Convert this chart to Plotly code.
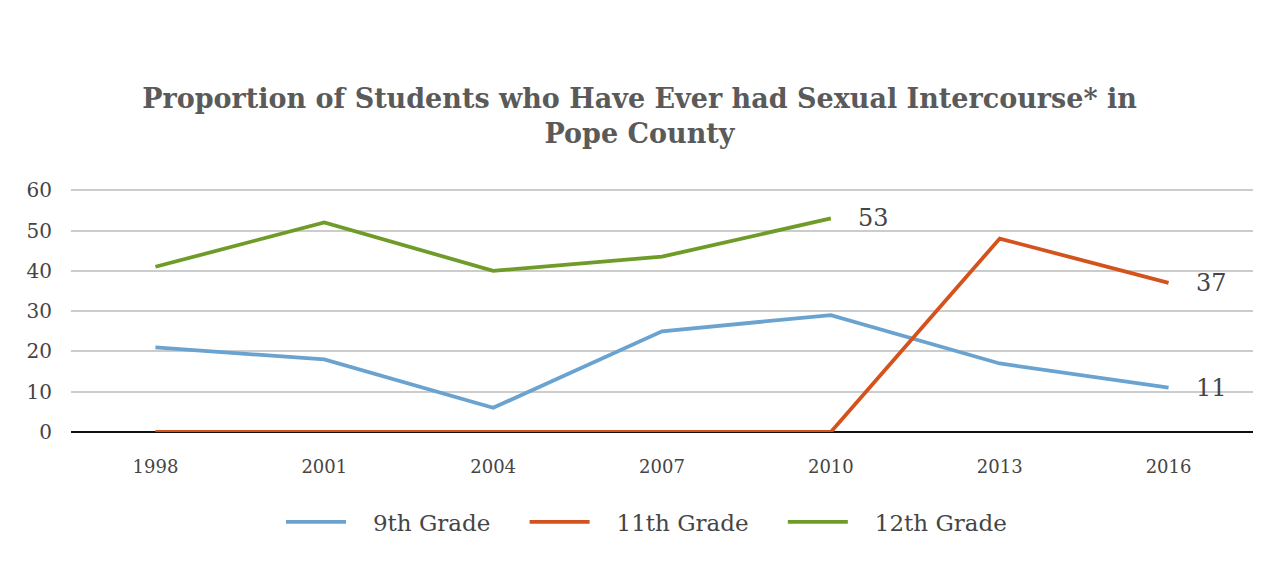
import plotly.graph_objects as go

years = ["1998", "2001", "2004", "2007", "2010", "2013", "2016"]
grade9 = [21, 18, 6, 25, 29, 17, 11]
grade11 = [0, 0, 0, 0, 0, 48, 37]
grade12 = [41, 52, 40, 43.5, 53, None, None]
series_names = ["9th Grade", "11th Grade", "12th Grade"]
colors = ["#6aa3d0", "#d4531d", "#6f9b28"]
# end labels: (category index, value, text)
end_labels = [(6, 11, "11"), (6, 37, "37"), (4, 53, "53")]

TXT = "#454545"
FONT = "DejaVu Serif"
PAD = "\u00a0\u00a0\u00a0"
TAIL = "\u00a0\u00a0\u00a0\u00a0"

fig = go.Figure()
for name, vals, col in zip(series_names, [grade9, grade11, grade12], colors):
    fig.add_trace(go.Scatter(x=years, y=vals, name=PAD + name + TAIL, mode="lines",
                             line=dict(color=col, width=3.8), connectgaps=False))

for x, y, t in end_labels:
    fig.add_annotation(x=x, y=y, text=t, showarrow=False, xanchor="left",
                       xshift=25, font=dict(family=FONT, size=24, color=TXT))

fig.update_layout(
    width=1279, height=580,
    paper_bgcolor="white", plot_bgcolor="white",
    margin=dict(l=71, r=26, t=189, b=148),
    title=dict(text="<b>Proportion of Students who Have Ever had Sexual Intercourse* in<br>Pope County</b>",
               x=0.5, xanchor="center", y=1 - 108 / 580, yanchor="top",
               font=dict(family=FONT, size=27, color="#5a5a5a")),
    font=dict(family=FONT, color=TXT),
    legend=dict(orientation="h", x=(281 - 71) / 1182, xanchor="left", y=-0.37, yanchor="middle",
                font=dict(family=FONT, size=23, color=TXT), itemwidth=60,
                traceorder="normal"),
    showlegend=True,
)
fig.update_xaxes(type="category", categoryorder="array", categoryarray=years,
                 range=[-0.5, 6.5], showgrid=False, showline=False, ticks="",
                 tickfont=dict(family=FONT, size=18, color=TXT), ticklabelstandoff=22)
fig.update_yaxes(range=[0, 60.3], tickvals=[0, 10, 20, 30, 40, 50, 60], showgrid=True,
                 gridcolor="#cccccc", gridwidth=2, zeroline=True, zerolinecolor="#111111",
                 zerolinewidth=2, showline=False, ticks="",
                 tickfont=dict(family=FONT, size=20, color=TXT), ticklabelstandoff=18)

fig.write_html("out.html")
